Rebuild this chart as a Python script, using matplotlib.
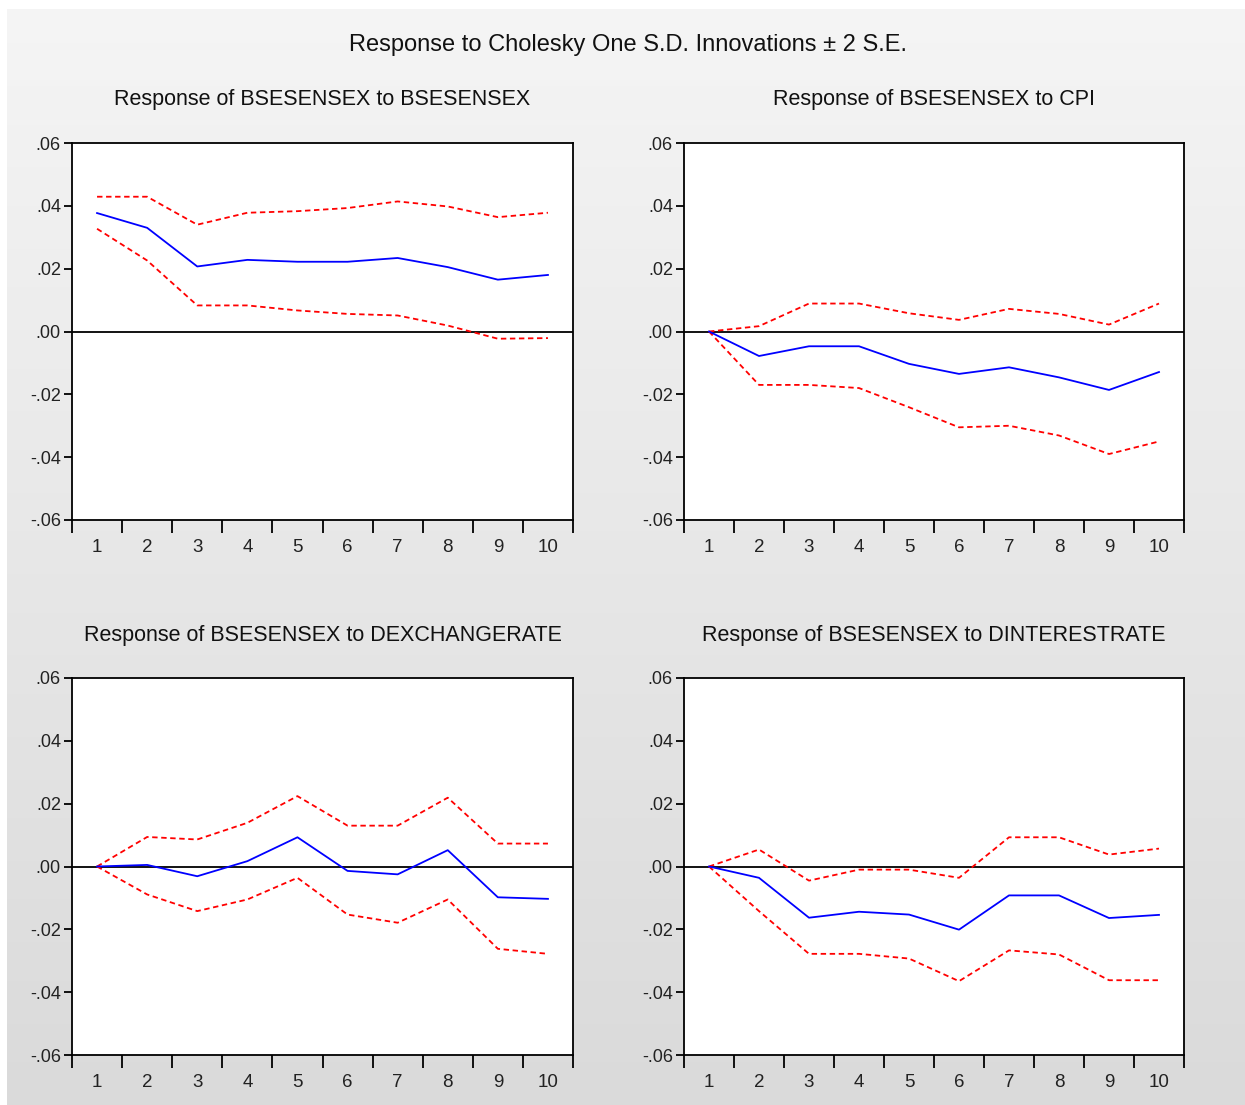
import numpy as np
import matplotlib
matplotlib.use("Agg")
import matplotlib.pyplot as plt

plt.rcParams['font.family'] = ['Liberation Sans', 'DejaVu Sans']

periods = np.arange(1, 11)

panel_titles = [
    "Response of BSESENSEX to BSESENSEX",
    "Response of BSESENSEX to CPI",
    "Response of BSESENSEX to DEXCHANGERATE",
    "Response of BSESENSEX to DINTERESTRATE",
]

# impulse responses (blue) and +/- 2 S.E. bands (red dashed)
resp_sensex = [0.0377, 0.0330, 0.0207, 0.0228, 0.0222, 0.0222, 0.0234, 0.0205, 0.0165, 0.0180]
upper_sensex = [0.0429, 0.0429, 0.0340, 0.0378, 0.0383, 0.0393, 0.0414, 0.0398, 0.0364, 0.0378]
lower_sensex = [0.0327, 0.0226, 0.0083, 0.0083, 0.0067, 0.0056, 0.0051, 0.0019, -0.0023, -0.0021]

resp_cpi = [0.0, -0.0078, -0.0047, -0.0047, -0.0103, -0.0135, -0.0114, -0.0146, -0.0186, -0.0129]
upper_cpi = [0.0, 0.0017, 0.0089, 0.0089, 0.0058, 0.0037, 0.0072, 0.0056, 0.0022, 0.0089]
lower_cpi = [0.0, -0.0170, -0.0170, -0.0180, -0.0241, -0.0305, -0.0300, -0.0331, -0.0390, -0.0350]

resp_dexch = [0.0, 0.0005, -0.0031, 0.0017, 0.0093, -0.0014, -0.0025, 0.0052, -0.0098, -0.0103]
upper_dexch = [0.0, 0.0094, 0.0086, 0.0139, 0.0224, 0.0130, 0.0130, 0.0219, 0.0073, 0.0073]
lower_dexch = [0.0, -0.0089, -0.0142, -0.0105, -0.0036, -0.0153, -0.0179, -0.0105, -0.0262, -0.0278]

resp_dint = [0.0, -0.0036, -0.0163, -0.0144, -0.0153, -0.0201, -0.0092, -0.0092, -0.0164, -0.0154]
upper_dint = [0.0, 0.0054, -0.0045, -0.0010, -0.0010, -0.0036, 0.0093, 0.0093, 0.0038, 0.0057]
lower_dint = [0.0, -0.0142, -0.0278, -0.0278, -0.0293, -0.0365, -0.0267, -0.0280, -0.0362, -0.0362]

y_ticks = [-0.06, -0.04, -0.02, 0.00, 0.02, 0.04, 0.06]
y_tick_labels = ["-.06", "-.04", "-.02", ".00", ".02", ".04", ".06"]

panels = [
    (resp_sensex, upper_sensex, lower_sensex),
    (resp_cpi, upper_cpi, lower_cpi),
    (resp_dexch, upper_dexch, lower_dexch),
    (resp_dint, upper_dint, lower_dint),
]

W, H = 1245, 1105
fig = plt.figure(figsize=(W / 100, H / 100), dpi=100)
fig.patch.set_facecolor('white')

# gray gradient backdrop
bg = fig.add_axes([7 / W, 0, 1 - 7 / W, 1 - 9 / H], zorder=-10)
grad = np.linspace(0.96, 0.855, 256).reshape(-1, 1)
bg.imshow(np.dstack([grad, grad, grad]), aspect='auto', extent=[0, 1, 0, 1])
bg.axis('off')

fig.text(628 / W, 1 - 45 / H, "Response to Cholesky One S.D. Innovations \u00b1 2 S.E.",
         ha='center', va='center', fontsize=17, color='#111111')

# pixel boxes: left, top, right, bottom
boxes = [(72, 143, 573, 520), (684, 143, 1184, 520),
         (72, 678, 573, 1055), (684, 678, 1184, 1055)]
title_y = [99, 99, 635, 635]

for (resp, up, lo), (l, t, r, b), title, ty in zip(panels, boxes, panel_titles, title_y):
    ax = fig.add_axes([l / W, 1 - b / H, (r - l) / W, (b - t) / H])
    ax.set_facecolor('white')
    ax.axhline(0, color='black', lw=1.3)
    ax.plot(periods, up, color='red', ls='--', lw=1.3, dashes=(3, 2))
    ax.plot(periods, lo, color='red', ls='--', lw=1.3, dashes=(3, 2))
    ax.plot(periods, resp, color='blue', lw=1.3)
    ax.set_xlim(0.5, 10.5)
    ax.set_ylim(-0.06, 0.06)
    ax.set_yticks(y_ticks)
    ax.set_yticklabels(y_tick_labels)
    ax.set_xticks(periods)
    ax.set_xticklabels([str(p) for p in periods])
    ax.set_xticks(np.arange(0.5, 11, 1.0), minor=True)
    ax.tick_params(axis='x', which='major', length=0, pad=14, labelsize=13.5, labelcolor='#222222')
    ax.tick_params(axis='x', which='minor', length=9, width=1.3, direction='out')
    ax.tick_params(axis='y', length=6, width=1.3, direction='out', pad=2, labelsize=13,
                   labelcolor='#222222')
    for s in ax.spines.values():
        s.set_linewidth(1.3)
    fig.text((l + r) / 2 / W, 1 - ty / H, title, ha='center', va='center', fontsize=15.5,
             color='#111111')

fig.savefig("out.png", dpi=100)
